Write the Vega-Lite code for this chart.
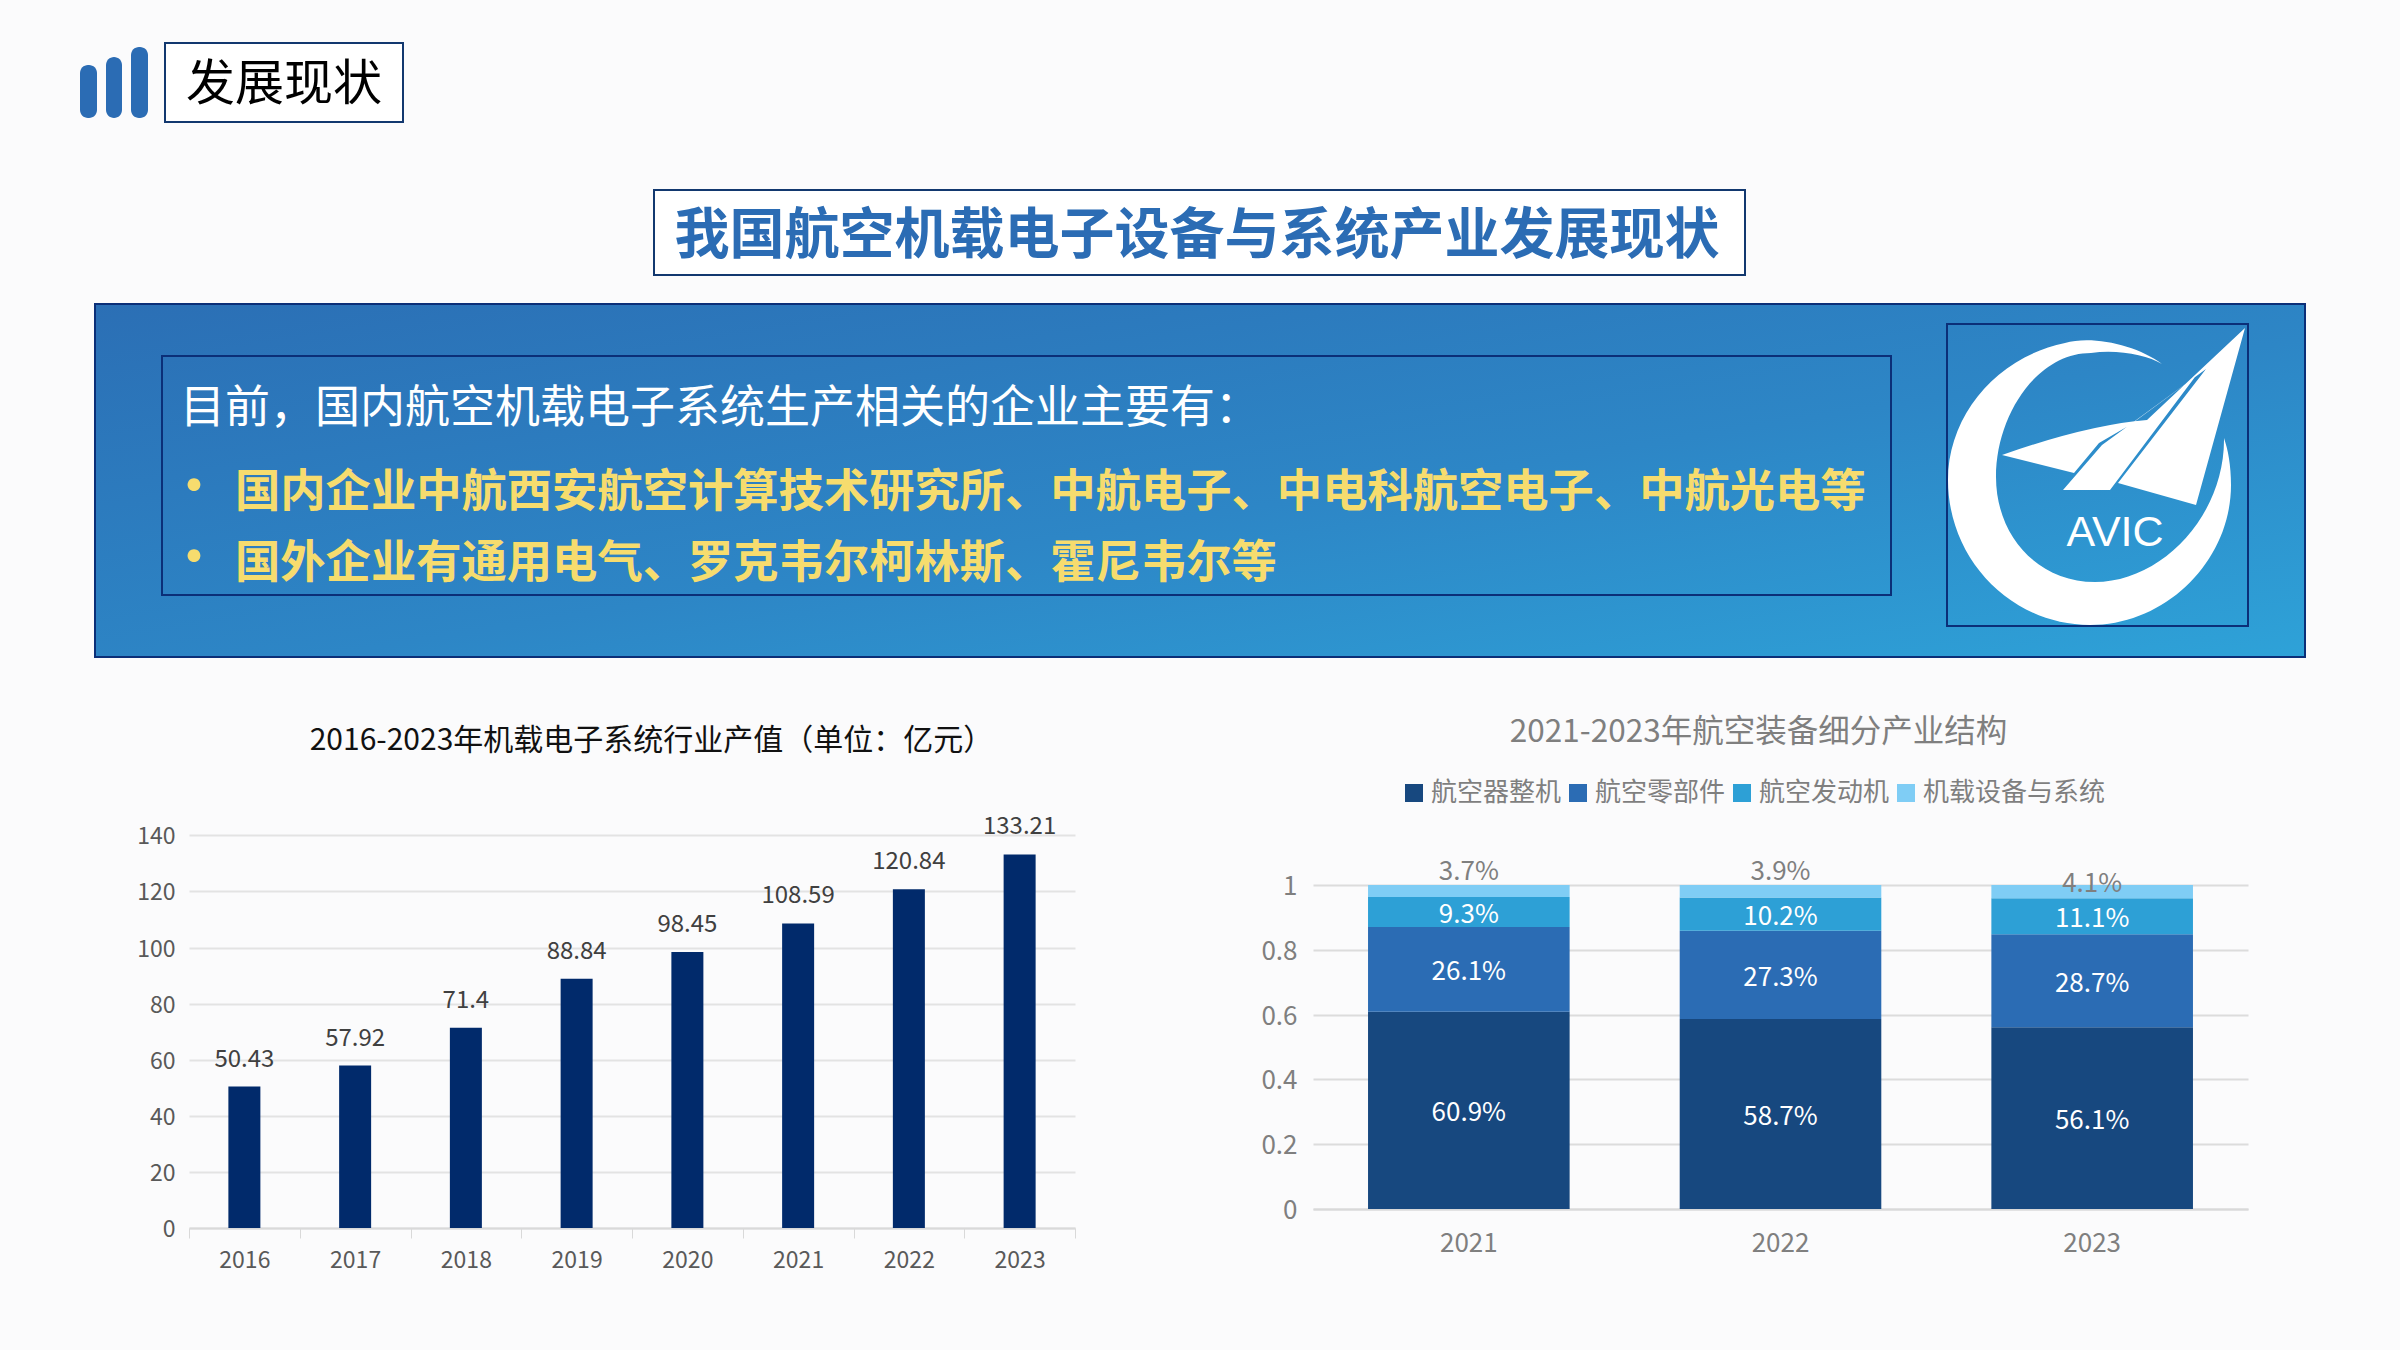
{
"$schema":"https://vega.github.io/schema/vega-lite/v6.json",
"background":"#fbfbfc",
"padding":0,
"autosize":{"type":"pad"},
"spacing":100,
"bounds":"flush",
"config":{"view":{"stroke":null},"font":"Noto Sans CJK SC","text":{"font":"Noto Sans CJK SC"}},
"vconcat":[
{"width":2400,"height":660,
 "layer":[
  {"data":{"values":[{"part":"icon1"}]},"mark":{"type":"rect","x":80,"x2":97,"y":65,"y2":118,"cornerRadius":8,"fill":"#2b6cb4"},"encoding":{}},
  {"data":{"values":[{"part":"icon2"}]},"mark":{"type":"rect","x":106,"x2":122,"y":57,"y2":118,"cornerRadius":8,"fill":"#2b6cb4"},"encoding":{}},
  {"data":{"values":[{"part":"icon3"}]},"mark":{"type":"rect","x":131,"x2":148,"y":47,"y2":118,"cornerRadius":8,"fill":"#2b6cb4"},"encoding":{}},
  {"data":{"values":[{"part":"section box"}]},"mark":{"type":"rect","x":165,"x2":403,"y":43,"y2":122,"fill":"#ffffff","stroke":"#12386f","strokeWidth":2},"encoding":{}},
  {"data":{"values":[{"label":"发展现状"}]},"mark":{"type":"text","x":284,"y":85,"align":"center","baseline":"middle","fontSize":49,"color":"#000000"},"encoding":{"text":{"field":"label"}}},
  {"data":{"values":[{"part":"title box"}]},"mark":{"type":"rect","x":654,"x2":1745,"y":190,"y2":275,"fill":"#ffffff","stroke":"#12386f","strokeWidth":2},"encoding":{}},
  {"data":{"values":[{"label":"我国航空机载电子设备与系统产业发展现状"}]},"mark":{"type":"text","x":1197,"y":236,"align":"center","baseline":"middle","fontSize":55,"fontWeight":"bold","color":"#2b6cb4"},"encoding":{"text":{"field":"label"}}},
  {"data":{"values":[{"part":"banner"}]},"mark":{"type":"rect","x":95,"x2":2305,"y":304,"y2":657,"stroke":"#0b2f78","strokeWidth":2,"fill":{"gradient":"linear","x1":0,"y1":0,"x2":1,"y2":1,"stops":[{"offset":0,"color":"#2b6fb5"},{"offset":0.55,"color":"#2d86c6"},{"offset":1,"color":"#2ea2d8"}]}},"encoding":{}},
  {"data":{"values":[{"part":"inner box"}]},"mark":{"type":"rect","x":162,"x2":1891,"y":356,"y2":595,"fillOpacity":0,"stroke":"#0b2f78","strokeWidth":2},"encoding":{}},
  {"data":{"values":[{"part":"logo box"}]},"mark":{"type":"rect","x":1947,"x2":2248,"y":324,"y2":626,"fillOpacity":0,"stroke":"#0b2f78","strokeWidth":2},"encoding":{}},
  {"data":{"values":[{"text":"目前，国内航空机载电子系统生产相关的企业主要有："}]},"mark":{"type":"text","x":180,"y":409,"align":"left","baseline":"middle","fontSize":45,"color":"#ffffff"},"encoding":{"text":{"field":"text"}}},
  {"data":{"values":[{"text":"国内企业中航西安航空计算技术研究所、中航电子、中电科航空电子、中航光电等"}]},"mark":{"type":"text","x":235,"y":493,"align":"left","baseline":"middle","fontSize":45.3,"fontWeight":"bold","color":"#f6dc6e"},"encoding":{"text":{"field":"text"}}},
  {"data":{"values":[{"text":"国外企业有通用电气、罗克韦尔柯林斯、霍尼韦尔等"}]},"mark":{"type":"text","x":235,"y":564,"align":"left","baseline":"middle","fontSize":45.3,"fontWeight":"bold","color":"#f6dc6e"},"encoding":{"text":{"field":"text"}}},
  {"data":{"values":[{"text":"•"}]},"mark":{"type":"text","x":194,"y":490,"align":"center","baseline":"middle","fontSize":60,"color":"#f6dc6e"},"encoding":{"text":{"field":"text"}}},
  {"data":{"values":[{"text":"•"}]},"mark":{"type":"text","x":194,"y":561,"align":"center","baseline":"middle","fontSize":60,"color":"#f6dc6e"},"encoding":{"text":{"field":"text"}}},
  {"data":{"values":[{"part":"logo crescent"}]},"mark":{"type":"point","x":2097,"y":475,"size":4,"filled":true,"opacity":1,"fill":"#ffffff","shape":"M65,-111 C40,-130 -5,-140 -32,-132 C-100,-118 -149,-60 -149,5 C-149,85 -85,150 -7,150 C70,150 134,85 134,10 C134,-10 131,-25 127,-37 C128,40 65,107 -2,107 C-60,107 -101,60 -101,2 C-101,-60 -60,-122 -6,-122 C20,-126 50,-120 65,-111 Z"},"encoding":{}},
  {"data":{"values":[{"part":"logo plane"}]},"mark":{"type":"point","x":2097,"y":475,"size":4,"filled":true,"opacity":1,"fill":"#ffffff","shape":"M148,-147 L50,-55 Q-10,-50 -95,-20 L-23,-2 L2,-32 L33,-50 L109,-106 Z M-34,15 L13,15 L98,-98 L5,-30 Z M21,8 L99,30 L148,-147 L109,-106 Z"},"encoding":{}},
  {"data":{"values":[{"label":"AVIC"}]},"mark":{"type":"text","x":2115,"y":533,"align":"center","baseline":"middle","font":"Liberation Sans","fontSize":43,"color":"#ffffff"},"encoding":{"text":{"field":"label"}}}
 ]},
{"hconcat":[
 {"width":1075,"height":590,
  "title":{"text":"2016-2023年机载电子系统行业产值（单位：亿元）","font":"Noto Sans CJK SC","fontSize":30,"fontWeight":"normal","color":"#111111","anchor":"middle","frame":"group","dx":114,"offset":4},
  "data":{"values":[{"year":"2016","value":50.43},{"year":"2017","value":57.92},{"year":"2018","value":71.4},{"year":"2019","value":88.84},{"year":"2020","value":98.45},{"year":"2021","value":108.59},{"year":"2022","value":120.84},{"year":"2023","value":133.21}]},
  "encoding":{"x":{"field":"year","type":"nominal","scale":{"range":[189,1075],"paddingInner":0,"paddingOuter":0},
     "axis":{"title":null,"labelAngle":0,"offset":-122,"tickBand":"extent","tickSize":10,"tickColor":"#d9d9d9","domainColor":"#d9d9d9","domainWidth":2,"labelFontSize":23,"labelColor":"#595959","labelPadding":11,"labelFont":"Noto Sans CJK SC"}},
    "y":{"field":"value","type":"quantitative","scale":{"domain":[0,140],"range":[468,75.4],"nice":false},
     "axis":{"title":null,"values":[0,20,40,60,80,100,120,140],"offset":-189,"grid":true,"gridColor":"#e3e3e3","gridWidth":2,"domain":false,"ticks":false,"labelFontSize":23,"labelColor":"#595959","labelPadding":14,"labelOffset":1.5,"labelFont":"Noto Sans CJK SC"}}},
  "layer":[
   {"mark":{"type":"bar","width":32,"color":"#012a6b"}},
   {"mark":{"type":"text","baseline":"middle","dy":-27,"fontSize":24,"color":"#404040"},"encoding":{"text":{"field":"value","type":"quantitative","format":"~f"}}}
  ]},
 {"width":1173,"height":590,
  "title":{"text":"2021-2023年航空装备细分产业结构","font":"Noto Sans CJK SC","fontSize":31.5,"fontWeight":"normal","color":"#7f7f7f","anchor":"middle","frame":"group","dx":97,"offset":12},
  "data":{"values":[
   {"year":"2021","segment":"航空器整机","rank":1,"share":0.609},{"year":"2021","segment":"航空零部件","rank":2,"share":0.261},{"year":"2021","segment":"航空发动机","rank":3,"share":0.093},{"year":"2021","segment":"机载设备与系统","rank":4,"share":0.037},
   {"year":"2022","segment":"航空器整机","rank":1,"share":0.587},{"year":"2022","segment":"航空零部件","rank":2,"share":0.273},{"year":"2022","segment":"航空发动机","rank":3,"share":0.102},{"year":"2022","segment":"机载设备与系统","rank":4,"share":0.039},
   {"year":"2023","segment":"航空器整机","rank":1,"share":0.561},{"year":"2023","segment":"航空零部件","rank":2,"share":0.287},{"year":"2023","segment":"航空发动机","rank":3,"share":0.111},{"year":"2023","segment":"机载设备与系统","rank":4,"share":0.041}
  ]},
  "transform":[{"stack":"share","groupby":["year"],"sort":[{"field":"rank","order":"ascending"}],"offset":"normalize","as":["s0","s1"]},{"calculate":"(datum.s0+datum.s1)/2","as":"mid"}],
  "encoding":{"x":{"field":"year","type":"nominal","scale":{"range":[238,1173],"paddingInner":0,"paddingOuter":0},
     "axis":{"title":null,"labelAngle":0,"offset":-141,"ticks":false,"domainColor":"#d9d9d9","domainWidth":2,"labelFontSize":26,"labelColor":"#7f7f7f","labelPadding":21,"labelFont":"Noto Sans CJK SC"}}},
  "layer":[
   {"mark":{"type":"bar","width":201.6},
    "encoding":{"y":{"field":"s0","type":"quantitative","scale":{"domain":[0,1],"range":[449,125],"nice":false},
       "axis":{"title":null,"values":[0,0.2,0.4,0.6,0.8,1],"format":".1~f","offset":-238,"grid":true,"gridColor":"#dcdcdc","gridWidth":2,"domain":false,"ticks":false,"labelFontSize":26,"labelColor":"#7f7f7f","labelPadding":16,"labelOffset":1.5,"labelFont":"Noto Sans CJK SC"}},
      "y2":{"field":"s1"},
      "color":{"field":"segment","type":"nominal","scale":{"domain":["航空器整机","航空零部件","航空发动机","机载设备与系统"],"range":["#17487f","#2b6cb4","#2da0d6","#7fcdf5"]},
       "legend":{"title":null,"orient":"none","legendX":1401,"legendY":780,"direction":"horizontal","columns":4,"symbolType":"square","symbolSize":324,"symbolStrokeWidth":0,"labelFontSize":26,"labelColor":"#7f7f7f","labelFont":"Noto Sans CJK SC","labelLimit":400,"columnPadding":3,"labelOffset":4}}}},
   {"transform":[{"filter":"datum.rank<4"}],"mark":{"type":"text","baseline":"middle","dy":3,"fontSize":26,"color":"#ffffff"},
    "encoding":{"y":{"field":"mid","type":"quantitative"},"text":{"field":"share","type":"quantitative","format":".1%"}}},
   {"transform":[{"filter":"datum.rank==4 && datum.year!='2023'"}],"mark":{"type":"text","baseline":"middle","dy":-13,"fontSize":26,"color":"#7f7f7f"},
    "encoding":{"y":{"field":"s1","type":"quantitative"},"text":{"field":"share","type":"quantitative","format":".1%"}}},
   {"transform":[{"filter":"datum.rank==4 && datum.year=='2023'"}],"mark":{"type":"text","baseline":"middle","dy":-1,"fontSize":26,"color":"#7f7f7f"},
    "encoding":{"y":{"field":"s1","type":"quantitative"},"text":{"field":"share","type":"quantitative","format":".1%"}}}
  ]}
 ],"spacing":0,"bounds":"flush"}
]}
